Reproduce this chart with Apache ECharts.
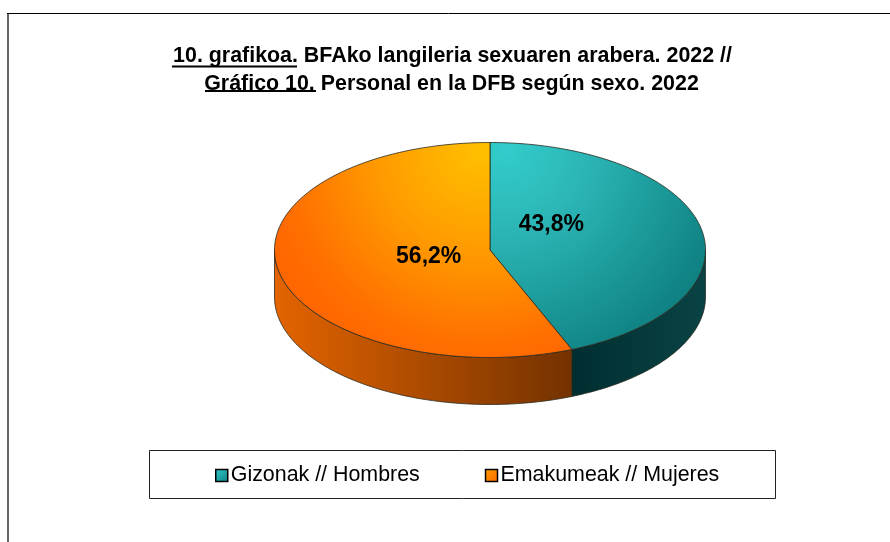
<!DOCTYPE html>
<html><head><meta charset="utf-8">
<style>html,body{margin:0;padding:0;background:#fff}#c{width:890px;height:542px}</style>
<script src="https://cdn.jsdelivr.net/npm/echarts@6/dist/echarts.min.js"></script>
</head><body><div id="c"></div>
<script>
const categories = ['Gizonak // Hombres', 'Emakumeak // Mujeres'];
const shares = [43.8, 56.2];
const valueLabels = ['43,8%', '56,2%'];
const titleLine1 = '10. grafikoa.';
const titleRest1 = ' BFAko langileria sexuaren arabera. 2022 //';
const titleLine2 = 'Gráfico 10.';
const titleRest2 = ' Personal en la DFB según sexo. 2022';

const FONT = '"Liberation Sans", Arial, sans-serif';
const C = {x: 490, y: 250, rx: 215.5, ry: 107.5, depth: 47};
const total = shares.reduce((a, b) => a + b, 0);
const pt = (deg, dy) => {
  const t = deg * Math.PI / 180;
  return [C.x + C.rx * Math.sin(t), C.y - C.ry * Math.cos(t) + (dy || 0)];
};
const arc = (a, b, dy) => {
  const out = [], n = Math.max(2, Math.ceil(Math.abs(b - a)));
  for (let i = 0; i <= n; i++) out.push(pt(a + (b - a) * i / n, dy));
  return out;
};
const radial = (x, y, r, stops) => new echarts.graphic.RadialGradient(x, y, r,
  stops.map(s => ({offset: s[0], color: s[1]})), true);
const linear = (x0, x1, c0, c1) => new echarts.graphic.LinearGradient(x0, 0, x1, 0,
  [{offset: 0, color: c0}, {offset: 1, color: c1}], true);
const styles = [
  {top: radial(505, 150, 235, [[0, '#33cccc'], [0.35, '#2cb5b5'], [0.65, '#1d9c9c'], [1, '#0e7f80']]),
   side: linear(571, 705, '#002e30', '#0a4345'),
   swatch: new echarts.graphic.LinearGradient(0, 0, 1, 1, [{offset: 0, color: '#33cccc'}, {offset: 1, color: '#0e7f80'}]),
   labelShift: [0, -19]},
  {top: radial(480, 150, 230, [[0, '#ffc000'], [0.45, '#ff9a00'], [0.85, '#ff6f00'], [1, '#ff6600']]),
   side: linear(274, 571, '#e46400', '#743200'),
   swatch: new echarts.graphic.LinearGradient(0, 0, 1, 1, [{offset: 0, color: '#ffa000'}, {offset: 1, color: '#ff6600'}]),
   labelShift: [0, 1]}
];
const OUT = {stroke: '#2a2a1e', lineWidth: 0.8};

function sliceRender(index) {
  const before = shares.slice(0, index).reduce((a, b) => a + b, 0);
  return function (params, api) {
    const a0 = before / total * 360;
    const a1 = a0 + api.value(0) / total * 360;
    const children = [];
    const w0 = Math.max(a0, 90), w1 = Math.min(a1, 270);
    if (w1 > w0) {
      const pts = arc(w0, w1, 0).concat(arc(w1, w0, C.depth));
      children.push({type: 'polygon', shape: {points: pts},
        style: Object.assign({fill: styles[index].side}, OUT)});
    }
    const top = [[C.x, C.y]].concat(arc(a0, a1, 0));
    children.push({type: 'polygon', shape: {points: top},
      style: Object.assign({fill: styles[index].top}, OUT)});
    const lp = pt((a0 + a1) / 2);
    children.push({type: 'text', z2: 10, style: {
      text: valueLabels[index],
      x: C.x + (lp[0] - C.x) * 0.29 + styles[index].labelShift[0],
      y: C.y + (lp[1] - C.y) * 0.29 + styles[index].labelShift[1],
      align: 'center', verticalAlign: 'middle',
      font: 'bold 23px ' + FONT, fill: '#000'}});
    return {type: 'group', children};
  };
}

const titleStyle = 'bold 21.4px ' + FONT;
const chart = echarts.init(document.getElementById('c'), null, {renderer: 'canvas'});
chart.setOption({
  animation: false,
  backgroundColor: '#fff',
  tooltip: {show: false},
  legend: {
    data: categories, left: 210, top: 460, itemWidth: 12, itemHeight: 12, itemGap: 65,
    icon: 'rect', selectedMode: false,
    textStyle: {fontFamily: FONT, fontSize: 21.4, color: '#000', padding: [0, 0, 0, -2]},
    itemStyle: {borderColor: '#000', borderWidth: 1.5}
  },
  graphic: [
    {type: 'line', shape: {x1: 8, y1: 13.5, x2: 8, y2: 542}, style: {stroke: '#333', lineWidth: 1.5}, silent: true},
    {type: 'line', shape: {x1: 7, y1: 13.5, x2: 890, y2: 13.5}, style: {stroke: '#000', lineWidth: 1}, silent: true},
    {type: 'rect', shape: {x: 149.5, y: 450.5, width: 626, height: 48}, style: {fill: '#fff', stroke: '#222', lineWidth: 1}, z: -1, silent: true},
    {type: 'text', style: {text: titleLine1 + titleRest1, x: 452.5, y: 56, align: 'center', verticalAlign: 'middle', font: titleStyle, fill: '#000'}, silent: true},
    {type: 'text', style: {text: titleLine2 + titleRest2, x: 451.5, y: 84, align: 'center', verticalAlign: 'middle', font: titleStyle, fill: '#000'}, silent: true},
    {type: 'rect', shape: {x: 172, y: 65.5, width: 125, height: 2}, style: {fill: '#000'}, silent: true},
    {type: 'rect', shape: {x: 205, y: 90, width: 111, height: 2}, style: {fill: '#000'}, silent: true}
  ],
  series: categories.map((name, i) => ({
    type: 'custom', name, coordinateSystem: 'none',
    data: [[shares[i]]],
    itemStyle: {color: styles[i].swatch},
    renderItem: sliceRender(i),
    silent: true
  }))
});
</script></body></html>
